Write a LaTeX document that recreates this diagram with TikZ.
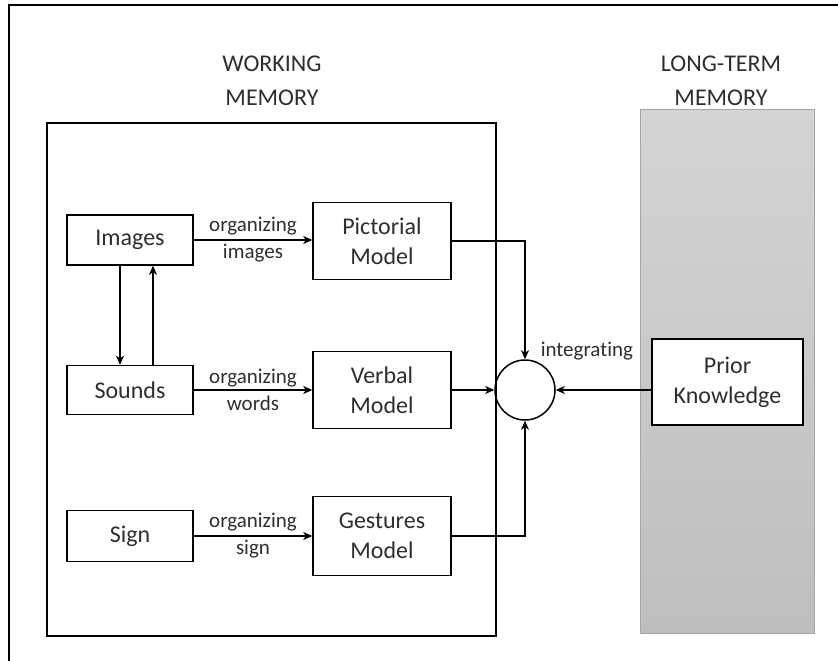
\documentclass[tikz,border=0pt]{standalone}
\usepackage{fontspec}
\setmainfont{Carlito}[Ligatures={NoCommon,NoRare}]
\usetikzlibrary{arrows.meta,positioning}
\definecolor{inkgray}{HTML}{2E2E2E}
\definecolor{ltmtop}{HTML}{D4D4D4}
\definecolor{ltmbottom}{HTML}{BEBEBE}
\definecolor{ltmedge}{HTML}{A6A6A6}
\begin{document}
\begin{tikzpicture}[x=1pt,y=-1pt,
  line width=1.5pt,
  title/.style={text=inkgray,align=center,font=\fontsize{24}{34}\selectfont},
  box/.style={draw=black,fill=white,text=inkgray,align=center,inner sep=0pt,
              font=\fontsize{24}{30}\selectfont},
  flowlabel/.style={text=inkgray,align=center,inner sep=0pt,
                    font=\fontsize{21}{27}\selectfont},
  flow/.style={draw=black,line width=1.3pt,-{Stealth[length=9pt,width=8pt,inset=2.5pt]}}]
\useasboundingbox (0,0) rectangle (838,661);

% frame around the figure
\draw[line width=2.2pt] (9,661) -- (9,5) -- (838,5);

% working memory and long-term memory panels
\node[draw=black,minimum width=449pt,minimum height=513pt,inner sep=0pt] (wm) at (271.5,379.5) {};
\node[draw=ltmedge,line width=1pt,top color=ltmtop,bottom color=ltmbottom,
      minimum width=174pt,minimum height=524pt,inner sep=0pt] (ltm) at (727,371) {};

% section titles
\node[title] (wmtitle) at (272,81) {WORKING\\MEMORY};
\node[title] (ltmtitle) at (721,81) {LONG-TERM\\MEMORY};

% sensory inputs
\node[box,minimum width=126pt,minimum height=50pt] (images) at (130,240) {Images};
\node[box,minimum width=126pt,minimum height=49pt] (sounds) at (130,390) {Sounds};
\node[box,minimum width=126pt,minimum height=51pt] (sign)   at (130,536) {Sign};

% mental models
\node[box,minimum width=138pt,minimum height=77pt] (pict)   at (382,241) {Pictorial\\Model};
\node[box,minimum width=138pt,minimum height=77pt] (verbal) at (382,390) {Verbal\\Model};
\node[box,minimum width=138pt,minimum height=79pt] (gest)   at (382,536) {Gestures\\Model};

% integration point and prior knowledge
\node[draw=black,circle,minimum size=60pt,inner sep=0pt] (integ) at (525,390) {};
\node[box,minimum width=151pt,minimum height=86pt] (prior) at (727.5,382) {Prior\\Knowledge};
\node[flowlabel,anchor=south west] (lblint) at (540,361) {integrating};

% organizing arrows
\draw[flow] (images.east) -- (images.east -| pict.west)
  node[flowlabel,midway] (lblimg) {organizing\\images};
\draw[flow] (sounds.east) -- (sounds.east -| verbal.west)
  node[flowlabel,midway] (lblwrd) {organizing\\words};
\draw[flow] (sign.east) -- (sign.east -| gest.west)
  node[flowlabel,midway] (lblsgn) {organizing\\sign};

% exchange between images and sounds
\draw[flow] ([xshift=-10pt]images.south) -- ([xshift=-10pt]images.south |- sounds.north);
\draw[flow] ([xshift=23pt]images.south |- sounds.north) -- ([xshift=23pt]images.south);

% integrating the models
\draw[flow] (pict.east) -| (integ.north);
\draw[flow] (verbal.east) -- (integ.west);
\draw[flow] (gest.east) -| (integ.south);
\draw[flow] (prior.west |- integ.east) -- (integ.east);
\end{tikzpicture}
\end{document}
